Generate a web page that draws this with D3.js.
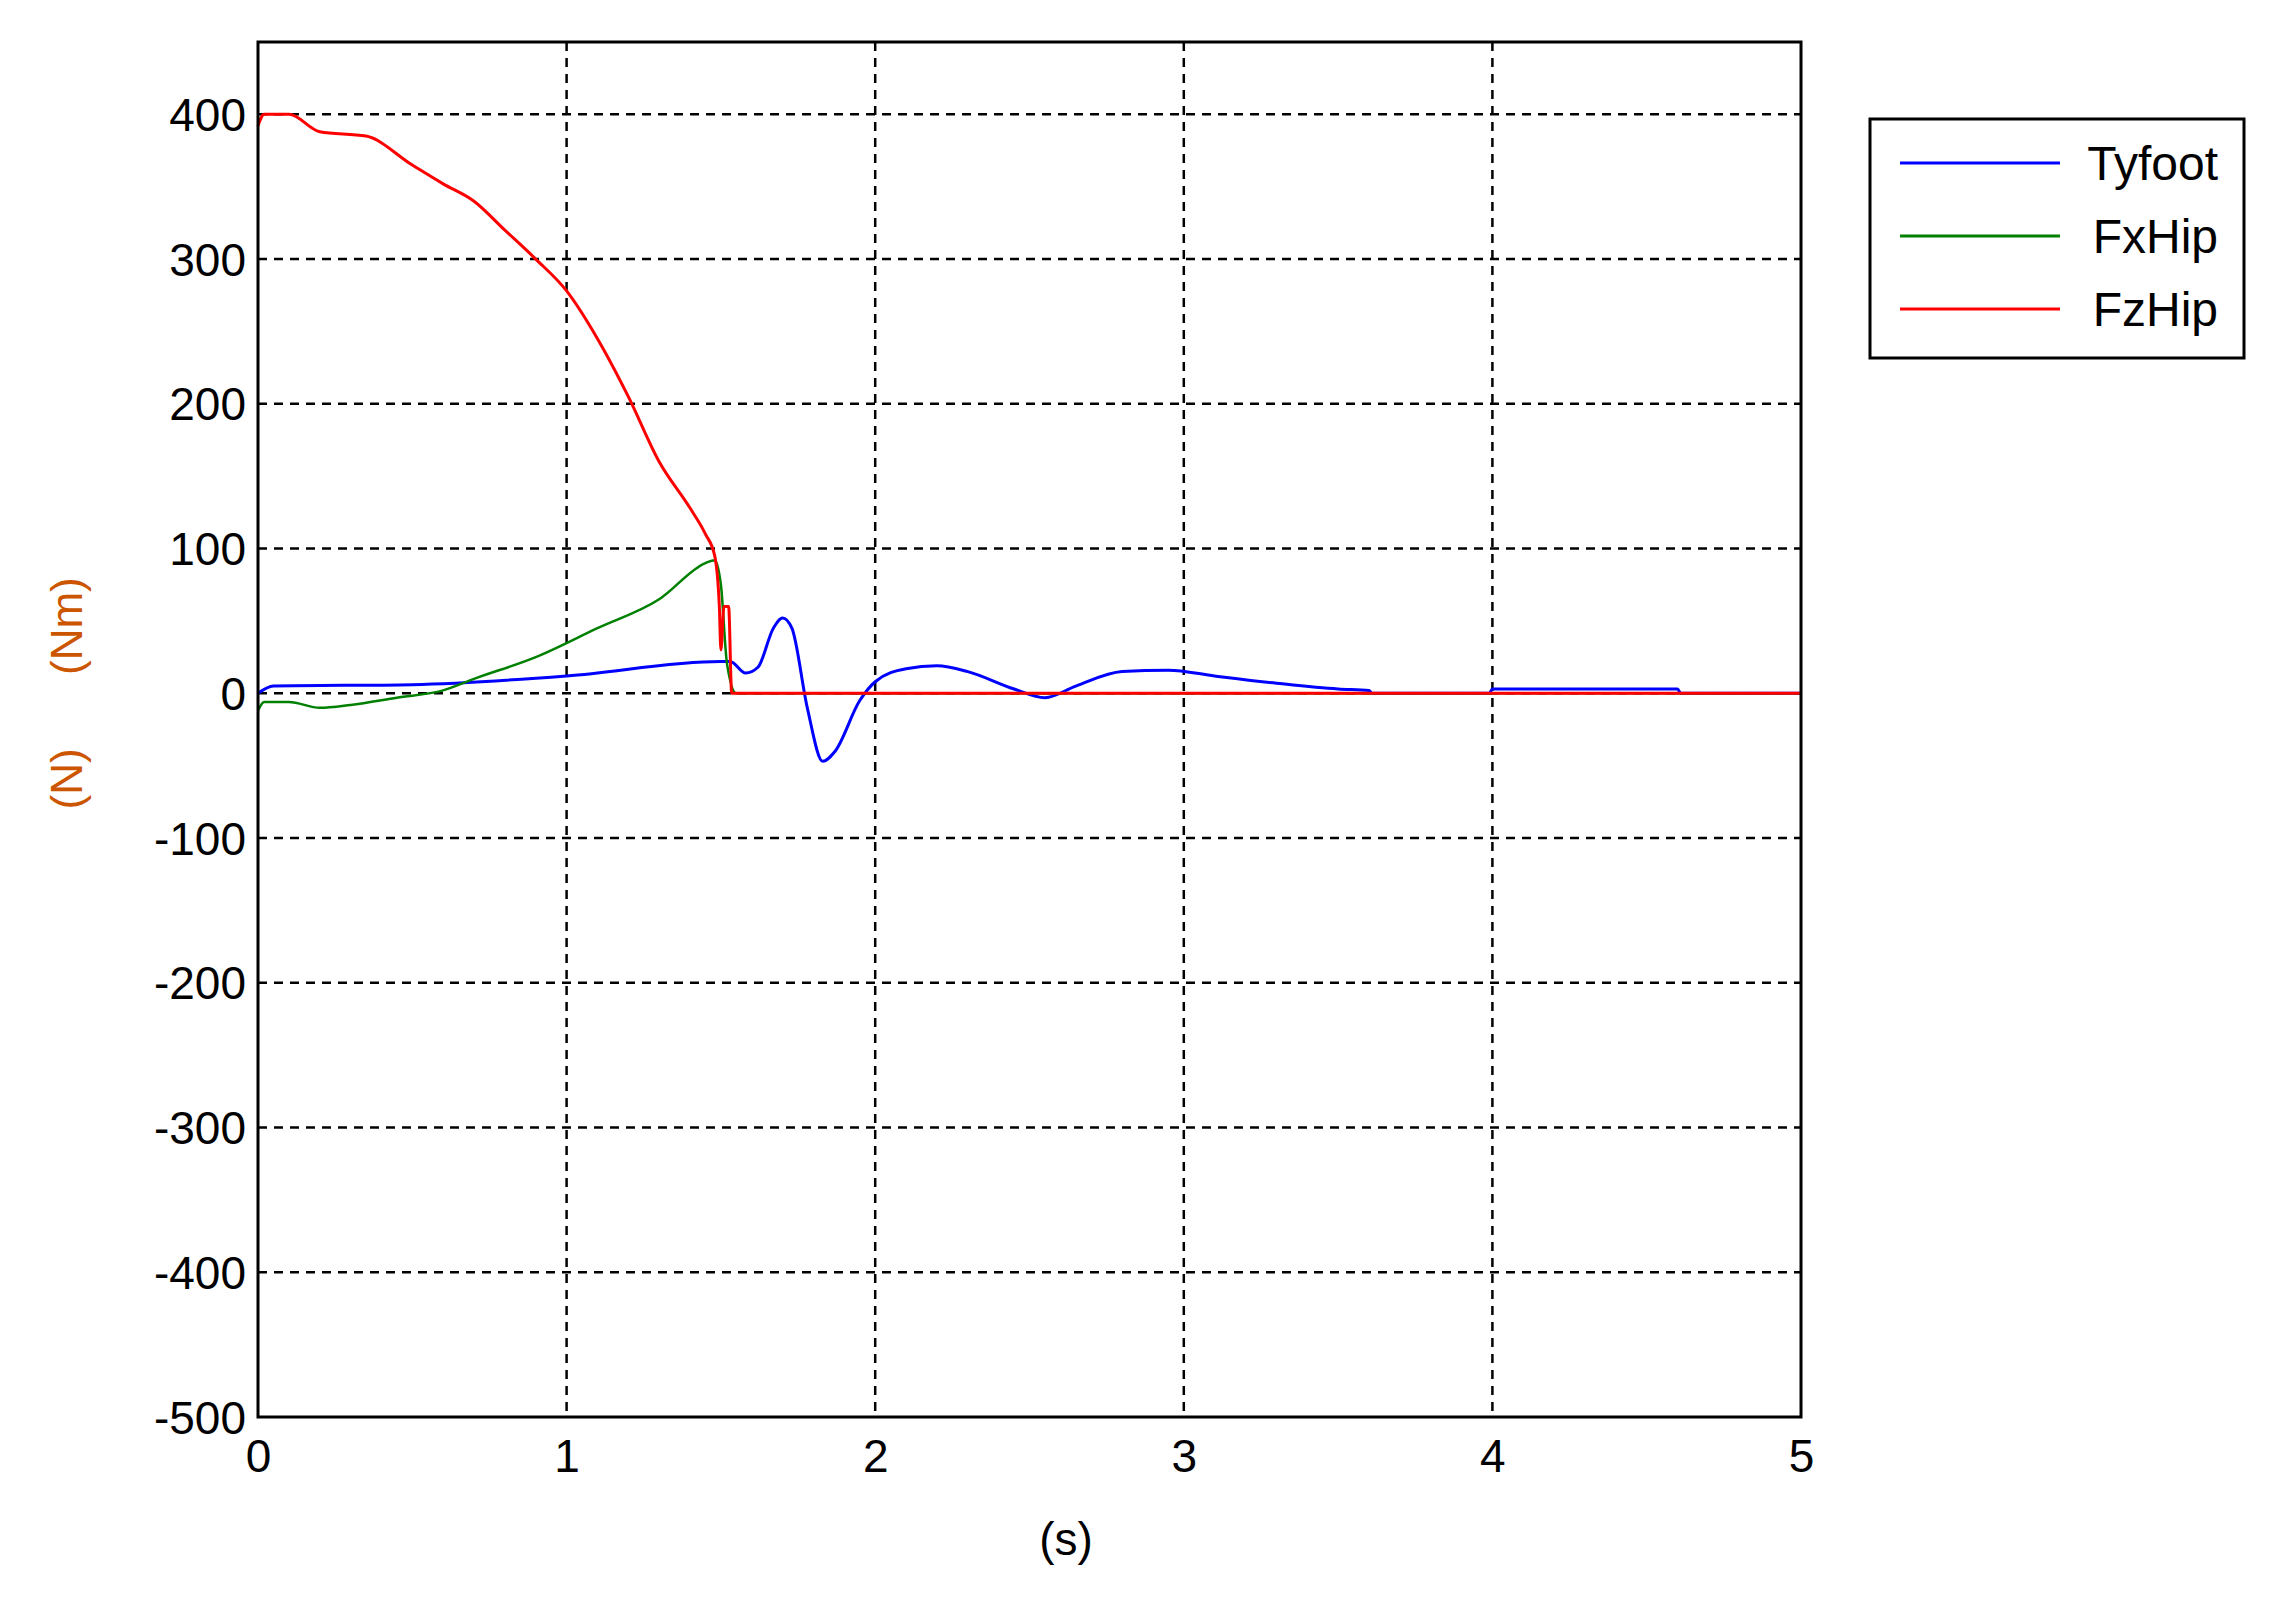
<!DOCTYPE html><html><head><meta charset="utf-8"><script src="https://cdn.jsdelivr.net/npm/d3@7"></script>
<style>body{margin:0;background:#fff}text{font-family:"Liberation Sans",Arial,sans-serif}</style></head><body>
<script>
const xTicks=[0,1,2,3,4,5];
const yTicks=[-500,-400,-300,-200,-100,0,100,200,300,400];
const seriesNames=["Tyfoot","FxHip","FzHip"];
const seriesColors=["#0000ff","#008000","#ff0000"];
const tyfoot=[[0,0],[0.05,5],[0.5,6],[1,12],[1.5,22],[1.53,22],[1.58,14],[1.62,18],[1.67,45],[1.7,52],[1.73,45],[1.78,-10],[1.83,-47],[1.87,-40],[1.95,-5],[2.0,8],[2.1,17],[2.2,19],[2.3,15],[2.45,3],[2.55,-3],[2.65,5],[2.8,15],[2.95,16],[3.1,12],[3.3,7],[3.5,3],[3.6,2],[3.61,0],[3.99,0],[4.0,3],[4.6,3],[4.61,0],[5,0]];
const fxhip=[[0,-12],[0.02,-6],[0.1,-6],[0.2,-10],[0.3,-8],[0.45,-3],[0.6,2],[0.7,10],[0.9,25],[1.1,45],[1.3,65],[1.45,90],[1.48,92],[1.5,75],[1.52,20],[1.55,0],[5,0]];
const fzhip=[[0,392],[0.02,400],[0.1,400],[0.2,388],[0.35,385],[0.5,365],[0.6,352],[0.7,340],[0.8,320],[0.9,300],[1,278],[1.1,245],[1.2,205],[1.3,160],[1.4,128],[1.45,110],[1.48,95],[1.495,60],[1.5,30],[1.51,60],[1.525,60],[1.535,0],[5,0]];
const data=[tyfoot,fxhip,fzhip];
const W=2272,H=1598,L=258,R=1801,T=42,B=1417;
const svg=d3.select("body").append("svg").attr("width",W).attr("height",H);
const x=d3.scaleLinear().domain([0,5]).range([L,R]);
const y=d3.scaleLinear().domain([-500,450]).range([B,T]);
const g=svg.append("g");
xTicks.forEach(t=>{if(t>0&&t<5)g.append("line").attr("x1",x(t)).attr("x2",x(t)).attr("y1",T).attr("y2",B).attr("stroke","#000").attr("stroke-width",2.5).attr("stroke-dasharray","9,7");});
yTicks.forEach(t=>{if(t>-500)g.append("line").attr("x1",L).attr("x2",R).attr("y1",y(t)).attr("y2",y(t)).attr("stroke","#000").attr("stroke-width",2.5).attr("stroke-dasharray","9,7");});
const line=d3.line().x(d=>x(d[0])).y(d=>y(d[1])).curve(d3.curveMonotoneX);
data.forEach((s,i)=>svg.append("path").attr("d",line(s)).attr("fill","none").attr("stroke",seriesColors[i]).attr("stroke-width",i==1?2.5:3));
svg.append("rect").attr("x",L).attr("y",T).attr("width",R-L).attr("height",B-T).attr("fill","none").attr("stroke","#000").attr("stroke-width",3);
svg.append("g").attr("transform",`translate(0,${B})`).call(d3.axisBottom(x).tickValues(xTicks).tickSize(0).tickPadding(22).tickFormat(d3.format("d"))).call(a=>a.select(".domain").remove()).selectAll("text").attr("font-size",46).attr("fill","#000");
svg.append("g").attr("transform",`translate(${L},0)`).call(d3.axisLeft(y).tickValues(yTicks).tickSize(0).tickPadding(12).tickFormat(d=>String(d))).call(a=>a.select(".domain").remove()).selectAll("text").attr("font-size",46).attr("fill","#000").attr("dy","0.35em");
svg.append("text").attr("x",1066).attr("y",1555).attr("text-anchor","middle").attr("font-size",46).text("(s)");
svg.append("text").attr("transform",`translate(82,${y(0)}) rotate(-90)`).attr("text-anchor","middle").attr("font-size",44).attr("fill","#cc5500").attr("xml:space","preserve").text("(N)      (Nm)");
const lg=svg.append("g");
lg.append("rect").attr("x",1870).attr("y",119).attr("width",374).attr("height",239).attr("fill","#fff").attr("stroke","#000").attr("stroke-width",3);
seriesNames.forEach((n,i)=>{const yy=163+i*73;
lg.append("line").attr("x1",1900).attr("x2",2060).attr("y1",yy).attr("y2",yy).attr("stroke",seriesColors[i]).attr("stroke-width",3);
lg.append("text").attr("x",2218).attr("y",yy).attr("dy","0.35em").attr("text-anchor","end").attr("font-size",48).text(n);});
</script></body></html>
